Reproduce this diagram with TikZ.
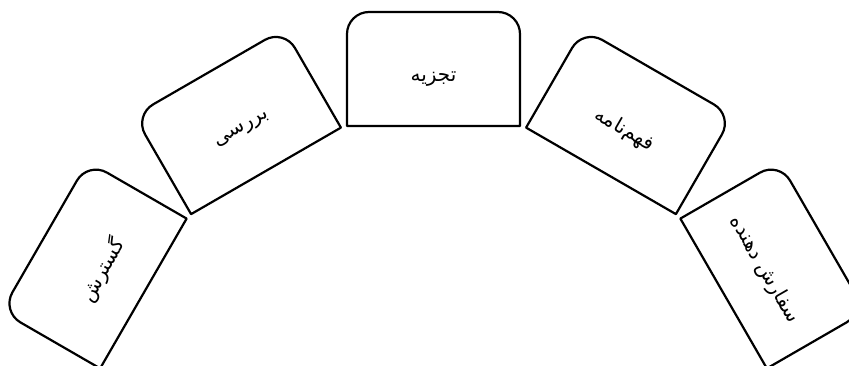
\documentclass[tikz,border=0pt]{standalone}
\usepackage{fontspec}
\newfontfamily\fa[Script=Arabic]{DejaVu Sans}
\TeXXeTstate=1

\begin{document}
\begin{tikzpicture}[x=1pt,y=1pt,
 tb/.style={line width=2.2pt,line join=round,fill=white},
 lb/.style={font=\fa\fontsize{20}{24}\selectfont,transform shape,inner sep=2pt}]
\useasboundingbox (0,0) rectangle (849,365);
\clip (0,0) rectangle (849,365);
\coordinate (c) at (433.5,-96);
% tabs round the arc, 30 degrees apart
\begin{scope}[shift={(c)},rotate=60,shift={(0,335)}]
\draw[tb] (-86.5,0) -- (-86.5,92) arc[start angle=180,end angle=90,radius=22] -- (64.5,114) arc[start angle=90,end angle=0,radius=22] -- (86.5,0) -- cycle;
\node[lb] (gst) at (0,47) {\beginR گسترش\endR};
\end{scope}
\begin{scope}[shift={(c)},rotate=30,shift={(0,335)}]
\draw[tb] (-86.5,0) -- (-86.5,92) arc[start angle=180,end angle=90,radius=22] -- (64.5,114) arc[start angle=90,end angle=0,radius=22] -- (86.5,0) -- cycle;
\node[lb] (brs) at (0,47) {\beginR بررسی\endR};
\end{scope}
\begin{scope}[shift={(c)},shift={(0,335)}]
\draw[tb] (-86.5,0) -- (-86.5,92) arc[start angle=180,end angle=90,radius=22] -- (64.5,114) arc[start angle=90,end angle=0,radius=22] -- (86.5,0) -- cycle;
\node[lb] (tjz) at (0,47) {\beginR تجزیه\endR};
\end{scope}
\begin{scope}[shift={(c)},rotate=-30,shift={(0,335)}]
\draw[tb] (-86.5,0) -- (-86.5,92) arc[start angle=180,end angle=90,radius=22] -- (64.5,114) arc[start angle=90,end angle=0,radius=22] -- (86.5,0) -- cycle;
\node[lb] (fhm) at (0,47) {\beginR فهم^^^^200cنامه\endR};
\end{scope}
\begin{scope}[shift={(c)},rotate=-60,shift={(0,335)}]
\draw[tb] (-86.5,0) -- (-86.5,92) arc[start angle=180,end angle=90,radius=22] -- (64.5,114) arc[start angle=90,end angle=0,radius=22] -- (86.5,0) -- cycle;
\node[lb] (sfr) at (0,47) {\beginR سفارش دهنده\endR};
\end{scope}
\end{tikzpicture}
\end{document}
